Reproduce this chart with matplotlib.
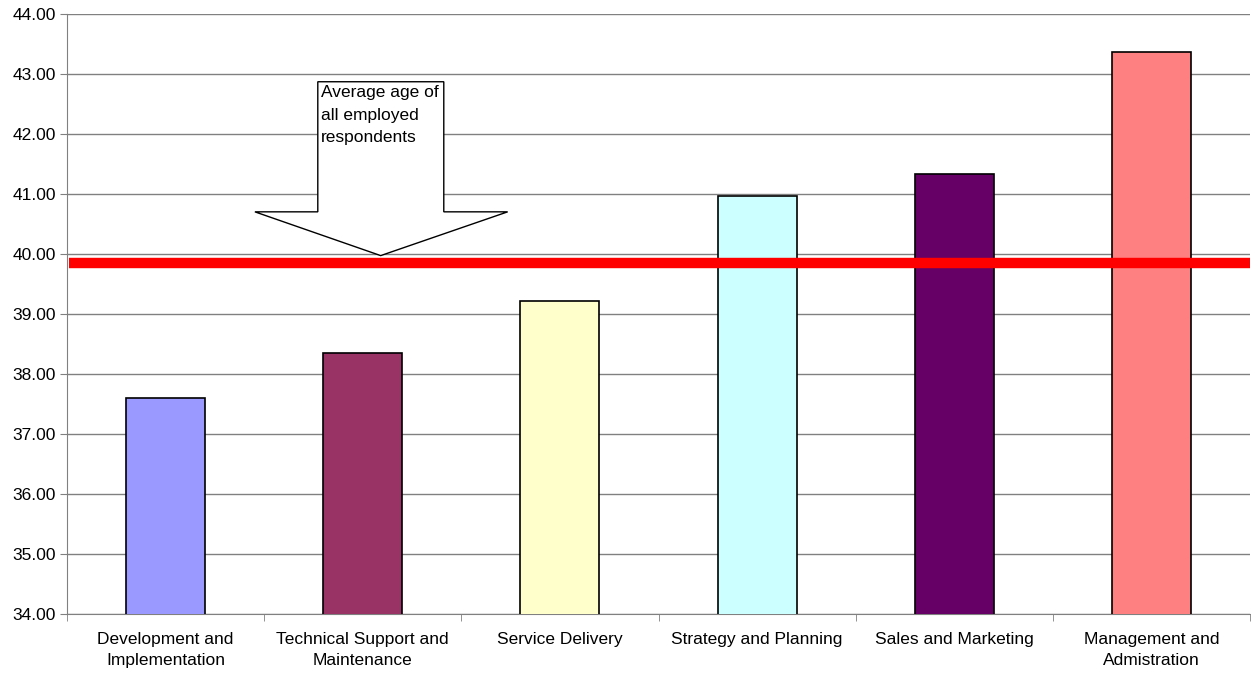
import matplotlib.pyplot as plt
from matplotlib.patches import Polygon
from matplotlib.ticker import FormatStrFormatter, FixedLocator

plt.rcParams['font.family'] = ['Liberation Sans', 'DejaVu Sans']

categories = ['Development and\nImplementation', 'Technical Support and\nMaintenance',
              'Service Delivery', 'Strategy and Planning', 'Sales and Marketing',
              'Management and\nAdmistration']
ages = [37.60, 38.35, 39.22, 40.97, 41.33, 43.37]
colors = ['#9999FF', '#993366', '#FFFFCC', '#CCFFFF', '#660066', '#FF8080']
average_age = 39.85
note = 'Average age of\nall employed\nrespondents'

fig = plt.figure(figsize=(12.51, 6.75), dpi=100)
ax = fig.add_axes([67 / 1251, 1 - 613.5 / 675, 1183 / 1251, 599.5 / 675])

x = range(len(categories))
ax.bar(x, ages, width=0.4, bottom=0, color=colors, edgecolor='black', linewidth=1.2, zorder=3)
ax.set_xlim(-0.5, len(categories) - 0.5)
ax.set_ylim(34, 44)
ax.set_yticks([34 + i for i in range(11)])
ax.yaxis.set_major_formatter(FormatStrFormatter('%.2f'))
ax.grid(axis='y', color='#808080', linewidth=1, zorder=0)

ax.set_xticks(list(x))
ax.set_xticklabels(categories, fontsize=12.5, linespacing=1.5)
ax.xaxis.set_minor_locator(FixedLocator([i - 0.5 for i in range(len(categories) + 1)]))
ax.tick_params(axis='x', which='major', length=0, pad=13)
ax.tick_params(axis='x', which='minor', length=5, color='#808080')
ax.tick_params(axis='y', length=5, color='#808080', labelsize=12.5, pad=3)

for side in ['top', 'right']:
    ax.spines[side].set_visible(False)
for side in ['left', 'bottom']:
    ax.spines[side].set_color('#808080')

ax.plot([-0.49, len(categories) - 0.5], [average_age, average_age], color='#FF0000',
        linewidth=7.5, solid_capstyle='butt', zorder=4)

# block arrow annotation
arrow = Polygon([(0.772, 42.87), (1.411, 42.87), (1.411, 40.70), (1.735, 40.70),
                 (1.091, 39.97), (0.453, 40.70), (0.772, 40.70)],
                closed=True, facecolor='white', edgecolor='black', linewidth=1, zorder=5)
ax.add_patch(arrow)
ax.text(0.787, 42.81, note, fontsize=12.5, va='top', ha='left', zorder=6, linespacing=1.6)

fig.savefig('out.png', dpi=100)
